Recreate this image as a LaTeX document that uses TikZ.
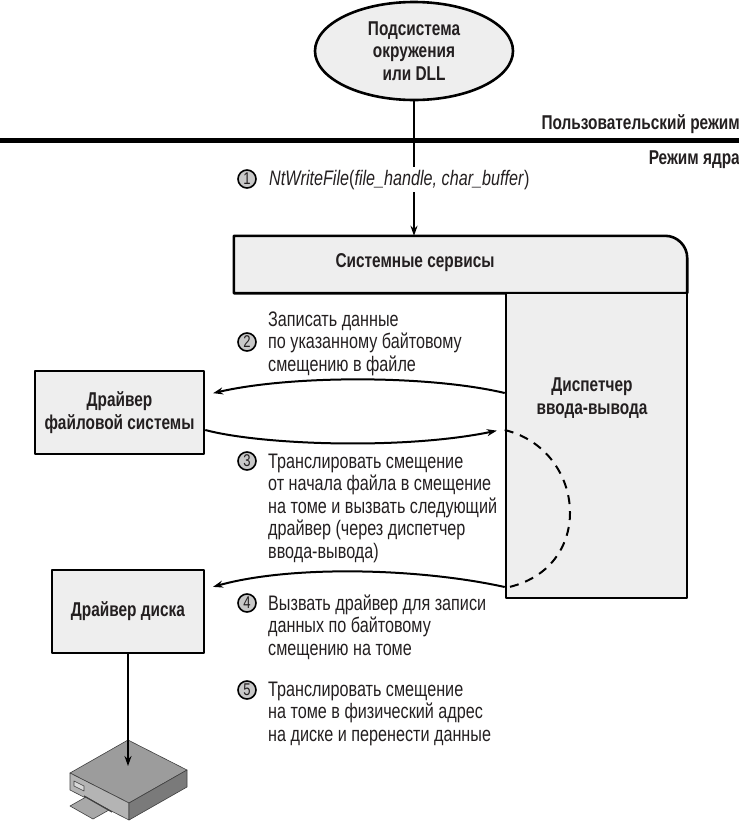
\documentclass[tikz,border=0pt]{standalone}
\usepackage{fontspec}
\setmainfont{Liberation Sans}[FakeStretch=0.77]
\usetikzlibrary{arrows.meta,shapes.geometric,calc}
\definecolor{boxgray}{HTML}{EEEEEE}
\definecolor{numgray}{HTML}{C8C8C8}
\definecolor{ink}{HTML}{231F20}
\definecolor{disktop}{HTML}{9C9C9C}
\definecolor{diskleft}{HTML}{B4B4B4}
\definecolor{diskright}{HTML}{7A7A7A}
\definecolor{disktray}{HTML}{A8A8A8}
\newcommand\bodysize{\fontsize{21}{22.5}\selectfont}
\newcommand\titlesize{\fontsize{20}{22.5}\selectfont}
\tikzset{
  box/.style={draw, fill=boxgray, line width=2.6pt},
  title/.style={align=center, font=\titlesize\bfseries},
  txt/.style={anchor=base west, align=left, inner sep=0pt, font=\bodysize},
  num/.style={circle, draw, fill=numgray, line width=1.6pt, minimum size=18pt,
    inner sep=0pt, font=\fontsize{17}{17}\selectfont},
  link/.style={->, line width=2pt},
}
\begin{document}
\begin{tikzpicture}[x=1pt, y=-1pt, >={Stealth[length=10pt,width=7pt]},
  line join=round, text=ink]
\useasboundingbox (0,0) rectangle (739,825);

% user / kernel boundary
\draw[line width=5pt] (0,140) -- (739,140);
\node[font=\titlesize\bfseries, anchor=base east, inner sep=0pt] (user) at (740,129) {Пользовательский режим};
\node[font=\titlesize\bfseries, anchor=base east, inner sep=0pt] (kernel) at (740,164) {Режим ядра};

\node[box, ellipse, title, inner sep=0pt, minimum width=198pt, minimum height=98pt] (env) at (414,51)
  {Подсистема\\окружения\\или DLL};

% system services with the I/O manager below it
\node[minimum width=453pt, minimum height=57pt, inner sep=0pt] (sys) at (460.5,264.5) {};
\draw[box] (sys.south east) -- (sys.south west) -- (sys.north west)
  -- ($(sys.north east)+(-22,0)$) .. controls +(12,0) and +(0,-12) .. ($(sys.north east)+(0,22)$) -- cycle;
\node[title] (systext) at (415,263) {Системные сервисы};
\node[box, minimum width=181pt, minimum height=305pt] (iom) at (596.5,445.5) {};
\node[title] (iomtext) at (592,398) {Диспетчер\\ввода-вывода};

\node[box, title, minimum width=169pt, minimum height=83pt] (fsd) at (119.5,412.5) {Драйвер\\файловой системы};
\node[box, title, minimum width=152pt, minimum height=83pt] (dd) at (128,611.5) {Драйвер диска};

\draw[link] (env.south) -- (env.south |- sys.north);
\node[txt, fill=white, inner sep=3pt] (t1) at (266,185)
  {\textit{NtWriteFile}(\textit{file\_handle, char\_buffer})};

\draw[link, shorten >=8pt] (iom.west |- 0,393) .. controls +(-76,-18) and +(86,-20) .. (fsd.east |- 0,395);
\draw[link, shorten >=8pt] (fsd.east |- 0,430) .. controls +(56,15) and +(-101,21) .. (iom.west |- 0,429);
\draw[line width=2pt, dash pattern=on 9pt off 7pt] (iom.west |- 0,430) .. controls +(82,20) and +(92,-18) .. (iom.west |- 0,588);
\draw[link, shorten >=8pt] (iom.west |- 0,587) .. controls +(-86,-19) and +(86,-24) .. (dd.east |- 0,589);

% disk
\path
(128,740) coordinate (dback)
(187,770) coordinate (dright)
(129,803) coordinate (dfront)
(70,773) coordinate (dleft)
(129,766) coordinate (disk)
;
\begin{scope}[draw=black!75, line width=0.6pt]
\filldraw[fill=disktop] (dback) -- (dright) -- (dfront) -- (dleft) -- cycle;
\filldraw[fill=diskleft] (dleft) -- (dfront) -- ++(0,17) -- ($(dleft)+(0,17)$) -- cycle;
\filldraw[fill=diskright] (dfront) -- (dright) -- ++(0,17) -- ($(dfront)+(0,17)$) -- cycle;
\filldraw[fill=disktray] (86,797) -- (70,806) -- (93,819) -- (109,810) -- cycle;
\draw[line width=1.2pt] (84,796) -- (112,812);
\filldraw[fill=white!85!black] (74,781) -- (84,786) -- (84,791) -- (74,786) -- cycle;
\end{scope}
\draw[link] (dd.south) -- (dd.south |- disk);

% step labels (anchored on the last line's baseline)
\foreach \n/\y in {1/179,2/342,3/461,4/603,5/690}
  \node[num] (n\n) at (247,\y) {\n};
\node[txt] (t2) at (268,371) {Записать данные\\по указанному байтовому\\смещению в файле};
\node[txt] (t3) at (268,558) {Транслировать смещение\\от начала файла в смещение\\на томе и вызвать следующий\\драйвер (через диспетчер\\ввода-вывода)};
\node[txt] (t4) at (268,655) {Вызвать драйвер для записи\\данных по байтовому\\смещению на томе};
\node[txt] (t5) at (268,741) {Транслировать смещение\\на томе в физический адрес\\на диске и перенести данные};
\end{tikzpicture}
\end{document}
